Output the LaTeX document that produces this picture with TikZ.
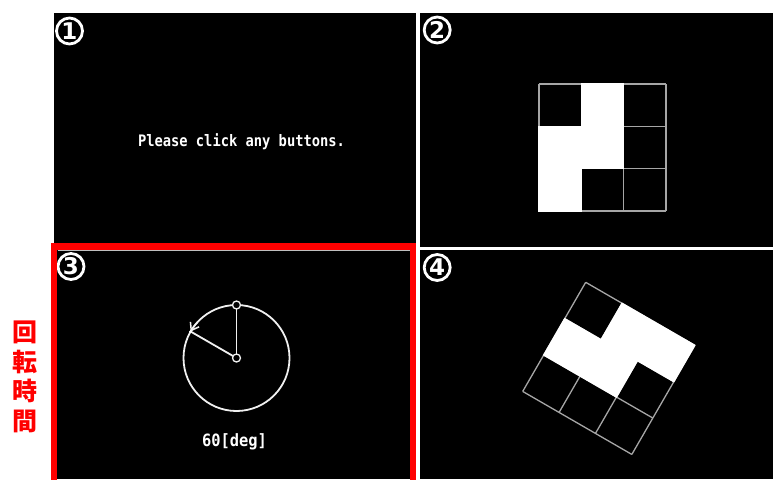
\documentclass[tikz,border=0pt]{standalone}
\usepackage{fontspec}
\setmainfont{DejaVu Sans}
\newfontfamily\monofont{DejaVu Sans Mono}
\newfontfamily\cjkfont{Noto Sans CJK JP}
\usetikzlibrary{arrows.meta}
\begin{document}
\begin{tikzpicture}[x=1pt,y=-1pt,
  panel/.style={fill=black},
  numlabel/.style={circle, draw=white, line width=2.8pt, minimum size=26pt, inner sep=0pt,
    text=white, font=\fontsize{23}{23}\selectfont\bfseries},
  cellline/.style={draw=gray!70, line width=1.3pt},
  whitecells/.style={fill=white, draw=white, line width=1.3pt, line join=miter},
  screentext/.style={text=white, inner sep=0pt, anchor=base},
  dial/.style={draw=white!94!black, line width=1.8pt},
  pin/.style={draw=white!94!black, fill=black, line width=1.3pt},
]
\useasboundingbox (0,0) rectangle (773,479);
\fill[white] (0,0) rectangle (773,479);

% panels
\fill[panel] (54,13) rectangle (416,246);
\fill[panel] (420,13) rectangle (773,247);
\fill[panel] (54,247) rectangle (413,479);
\fill[panel] (420,250) rectangle (773,479);
\draw[gray!50, line width=0.6pt] (57.5,250.6) -- (409.5,250.6);

% circled numbers
\node[numlabel] (n1) at (69.5,31) {1};
\node[numlabel] (n2) at (437.2,30) {2};
\node[numlabel] (n3) at (71,266.5) {3};
\node[numlabel] (n4) at (437.2,267.5) {4};

% panel 1 text
\node[screentext] (msg) at (241.5,146) {\scalebox{1}[1.15]{\monofont\bfseries\fontsize{13.75}{14}\selectfont Please click any buttons.}};

% panel 2 grid
\begin{scope}[shift={(539,84)}]
  \foreach \k in {0,1,2,3} {
    \draw[cellline] (\k*42.33,0) -- (\k*42.33,127);
    \draw[cellline] (0,\k*42.33) -- (127,\k*42.33);
  }
  \filldraw[whitecells] (42.33,0) -- (84.67,0) -- (84.67,84.67) -- (42.33,84.67) -- (42.33,127)
    -- (0,127) -- (0,42.33) -- (42.33,42.33) -- cycle;
\end{scope}

% panel 4 rotated grid
\begin{scope}[shift={(585.7,282.3)}, x={(0.866pt,-0.5pt)}, y={(-0.5pt,-0.866pt)}]
  \foreach \k in {0,1,2,3} {
    \draw[cellline] (\k*42,0) -- (\k*42,126);
    \draw[cellline] (0,\k*42) -- (126,\k*42);
  }
  \filldraw[whitecells] (42,0) -- (126,0) -- (126,42) -- (84,42) -- (84,84)
    -- (0,84) -- (0,42) -- (42,42) -- cycle;
\end{scope}

% panel 3 dial
\coordinate (cc) at (236.5,358);
\coordinate (top) at (236.5,305);
\path (cc) ++(210:53) coordinate (tip);
\draw[dial] (cc) circle[radius=53];
\draw[dial] (cc) -- (top);
\draw[dial] (cc) -- (tip);
\draw[dial, line width=1.5pt, -{Straight Barb[length=7pt,width=10pt]}] (cc) ++(223:53) arc[start angle=223, end angle=210, radius=53];
\fill[white] (tip) circle[radius=1.6];
\draw[pin] (cc) circle[radius=4];
\draw[pin] (top) circle[radius=4];
\node[screentext] (deg) at (234.5,446) {\scalebox{1}[1.1]{\monofont\bfseries\fontsize{15.4}{16}\selectfont 60[deg]}};

% red frame
\draw[red, line width=6.5pt] (54,246.5) rectangle (413,490);

% red vertical label
\node[text=red, align=center, inner sep=0pt, font=\cjkfont\bfseries\fontsize{25}{29.5}\selectfont] (lab) at (25,377) {回\\転\\時\\間};
\end{tikzpicture}
\end{document}
